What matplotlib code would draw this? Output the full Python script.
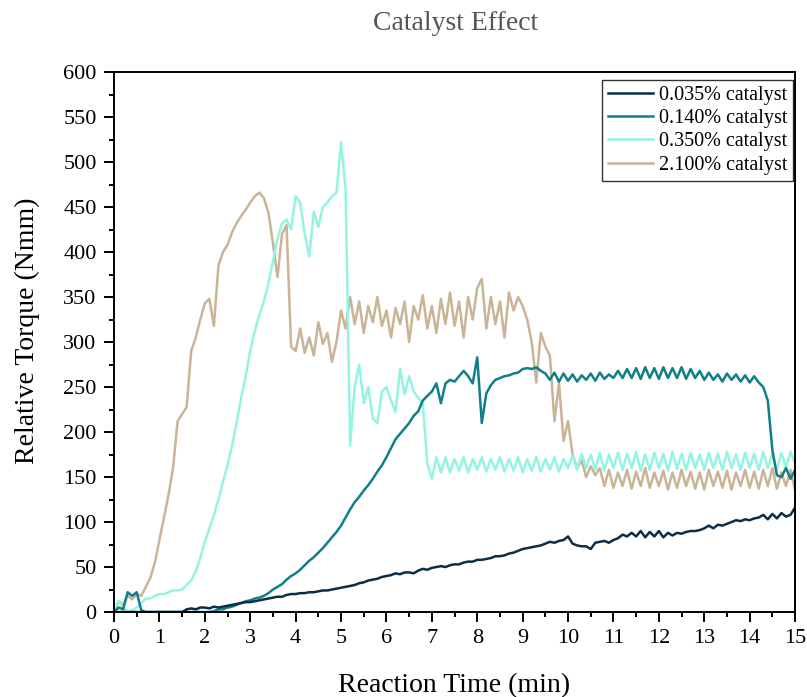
import numpy as np
import matplotlib
matplotlib.use("Agg")
import matplotlib.pyplot as plt
from matplotlib.ticker import MultipleLocator

plt.rcParams['font.family'] = ['Liberation Serif', 'DejaVu Serif']

# Reaction time grid (min), sampled every 0.1 min
time_min = np.round(np.arange(0, 15.01, 0.1), 1)

labels = ['0.035% catalyst', '0.140% catalyst', '0.350% catalyst', '2.100% catalyst']
colors = ['#0b2e48', '#0f7f89', '#94f4e2', '#c9b496']

torque_0035 = [
    0, 0, 0, 0, 0, 0, 0, 0, 0, 0,
    0, 0, 0, 0, 0, 0, 3, 4, 3, 5,
    5, 4, 6, 5, 6, 7, 8, 9, 10, 11,
    11, 12, 13, 14, 15, 16, 17, 17, 19, 20,
    20, 21, 21, 22, 22, 23, 24, 24, 25, 26,
    27, 28, 29, 30, 32, 33, 35, 36, 37, 39,
    40, 41, 43, 42, 44, 44, 43, 46, 48, 47,
    49, 50, 51, 50, 52, 53, 53, 55, 56, 56,
    58, 58, 59, 60, 62, 62, 63, 65, 66, 68,
    70, 71, 72, 73, 74, 76, 78, 77, 79, 80,
    84, 76, 74, 73, 73, 70, 77, 78, 79, 77,
    80, 82, 86, 84, 88, 84, 90, 83, 89, 84,
    90, 83, 88, 85, 88, 87, 89, 90, 90, 91,
    93, 96, 93, 97, 96, 98, 100, 102, 101, 103,
    102, 104, 105, 108, 103, 109, 104, 110, 106, 108,
    116,
]

torque_0140 = [
    0, 5, 3, 22, 18, 22, 2, 0, 0, 0,
    0, 0, 0, 0, 0, 0, 0, 0, 0, 0,
    0, 0, 1, 3, 3, 5, 6, 8, 10, 12,
    13, 15, 16, 18, 21, 25, 28, 31, 36, 40,
    43, 47, 52, 57, 61, 66, 71, 77, 83, 89,
    96, 105, 114, 122, 128, 135, 141, 148, 156, 163,
    172, 182, 192, 198, 204, 210, 218, 223, 235, 240,
    245, 254, 232, 254, 258, 256, 262, 268, 262, 254,
    283, 210, 243, 252, 258, 260, 262, 263, 265, 266,
    270, 271, 270, 272, 268, 265, 258, 266, 256, 265,
    257, 264, 256, 263, 258, 265, 257, 266, 259, 264,
    260, 268, 260, 270, 260, 271, 259, 272, 260, 271,
    259, 272, 260, 271, 260, 272, 259, 270, 260, 268,
    258, 266, 258, 264, 256, 265, 258, 264, 256, 263,
    255, 262, 255, 250, 235, 180, 152, 150, 160, 148,
    158,
]

torque_0350 = [
    0, 12, 5, 0, 2, 5, 10, 15, 15, 18,
    20, 20, 22, 24, 24, 25, 30, 35, 45, 60,
    78, 93, 108, 125, 145, 163, 185, 210, 238, 262,
    290, 312, 330, 345, 365, 390, 415, 432, 436, 425,
    462, 455, 420, 395, 445, 428, 450, 455, 462, 466,
    522, 470, 185, 250, 275, 232, 250, 215, 210, 245,
    250, 235, 222, 270, 242, 262, 245, 238, 232, 165,
    148, 172, 155, 172, 155, 170, 157, 172, 155, 170,
    158, 172, 156, 170, 158, 172, 156, 170, 157, 172,
    155, 170, 157, 172, 156, 170, 158, 172, 156, 170,
    160, 174, 158, 176, 160, 175, 158, 177, 157, 175,
    160, 177, 158, 176, 160, 178, 157, 175, 158, 177,
    160, 176, 157, 178, 159, 176, 158, 177, 160, 175,
    158, 177, 160, 176, 158, 178, 160, 175, 158, 177,
    160, 176, 158, 178, 160, 176, 158, 177, 160, 178,
    165,
]

torque_2100 = [
    0, 12, 8, 18, 14, 20, 18, 28, 38, 55,
    80, 105, 130, 160, 212, 220, 228, 290, 305, 325,
    343, 348, 318, 385, 400, 408, 422, 432, 440, 447,
    455, 462, 466, 460, 444, 410, 372, 420, 430, 295,
    290, 315, 288, 305, 285, 322, 298, 310, 278, 300,
    335, 315, 350, 320, 345, 310, 340, 322, 350, 318,
    335, 305, 338, 320, 345, 300, 340, 325, 352, 315,
    340, 310, 348, 320, 355, 318, 345, 305, 350, 325,
    360, 370, 315, 350, 320, 345, 305, 355, 335, 350,
    340, 325, 300, 255, 310, 295, 285, 212, 255, 190,
    212, 175, 160, 168, 150, 162, 152, 160, 140, 158,
    138, 155, 140, 158, 137, 156, 140, 160, 138, 155,
    140, 157, 136, 155, 138, 158, 140, 156, 137, 155,
    136, 158, 140, 156, 138, 157, 136, 155, 140, 158,
    138, 156, 137, 158, 140, 160, 137, 155, 140, 158,
    135,
]

series = [torque_0035, torque_0140, torque_0350, torque_2100]

fig = plt.figure(figsize=(8.07, 6.97), dpi=100)
ax = fig.add_axes([0.1413, 0.1219, 0.8439, 0.7748])

# draw the high-catalyst curves first so the low ones sit on top
for y, lab, c in reversed(list(zip(series, labels, colors))):
    ax.plot(time_min, y, color=c, lw=1.8, label=lab)

ax.set_xlim(0, 15)
ax.set_ylim(0, 600)
ax.xaxis.set_major_locator(MultipleLocator(1))
ax.xaxis.set_minor_locator(MultipleLocator(0.5))
ax.yaxis.set_major_locator(MultipleLocator(50))
ax.yaxis.set_minor_locator(MultipleLocator(25))
ax.tick_params(which='major', direction='out', length=7, width=1.4, labelsize=16, pad=5.5)
ax.tick_params(which='minor', direction='out', length=3.5, width=1.4)
for s in ax.spines.values():
    s.set_linewidth(1.4)

ax.set_xlabel('Reaction Time (min)', fontsize=20)
ax.set_ylabel('Relative Torque (Nmm)', fontsize=20)
ax.xaxis.set_label_coords(0.5, -0.113)
ax.yaxis.set_label_coords(-0.108, 0.52)
fig.text(0.564, 0.966, 'Catalyst Effect', fontsize=20, color='#555555',
         ha='center', va='center')

handles, labs = ax.get_legend_handles_labels()
leg = ax.legend(handles[::-1], labs[::-1], loc='upper right',
                bbox_to_anchor=(0.997, 0.985), borderaxespad=0, fontsize=14.5,
                frameon=True, fancybox=False, edgecolor='black',
                handlelength=2.2, labelspacing=0.2,
                handletextpad=0.3, borderpad=0.3)
leg.get_frame().set_linewidth(1.0)

fig.savefig('out.png', dpi=100)
